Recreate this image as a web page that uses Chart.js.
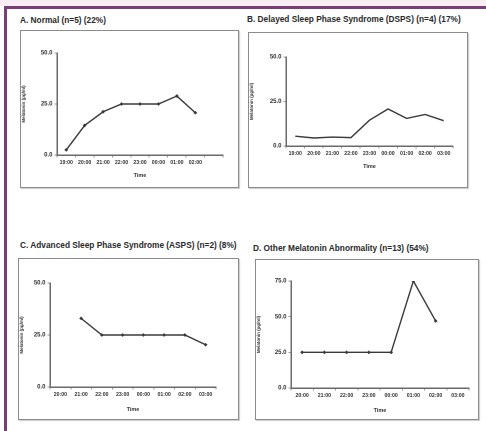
<!DOCTYPE html>
<html>
<head>
<meta charset="utf-8">
<script src="https://cdn.jsdelivr.net/npm/chart.js@4"></script>
<style>
  html,body{margin:0;padding:0;}
  body{width:486px;height:431px;position:relative;overflow:hidden;background:#fff;font-family:"Liberation Sans",Arial,sans-serif;}
  .topband{position:absolute;left:0;top:0;width:486px;height:6px;background:#f7edf3;}
  .vline{position:absolute;left:4px;top:6px;width:3px;height:425px;background:#7b3f78;}
  .hline{position:absolute;left:4px;top:6px;width:482px;height:2.5px;background:#7b3f78;}
  .ttl{position:absolute;font-weight:bold;font-size:8.3px;color:#2a2a2a;white-space:nowrap;}
  .box{position:absolute;border:1.5px solid #8c8c8c;box-shadow:1px 1px 1px rgba(0,0,0,.18);background:#fff;box-sizing:border-box;}
  .box canvas{position:absolute;left:0;top:0;}
</style>
</head>
<body>
<div class="topband"></div>
<div class="hline"></div>
<div class="vline"></div>

<div class="ttl" style="left:20px;top:15px">A. Normal (n=5) (22%)</div>
<div class="ttl" style="left:247px;top:14px">B. Delayed Sleep Phase Syndrome (DSPS) (n=4) (17%)</div>
<div class="ttl" style="left:20px;top:240px">C. Advanced Sleep Phase Syndrome (ASPS) (n=2) (8%)</div>
<div class="ttl" style="left:253px;top:243px">D. Other Melatonin Abnormality (n=13) (54%)</div>

<div class="box" style="left:20px;top:30px;width:219px;height:158px"><canvas id="cA"></canvas></div>
<div class="box" style="left:248px;top:32px;width:220px;height:156px"><canvas id="cB"></canvas></div>
<div class="box" style="left:18px;top:258px;width:221px;height:162px"><canvas id="cC"></canvas></div>
<div class="box" style="left:255px;top:259px;width:224px;height:161px"><canvas id="cD"></canvas></div>

<script>
// ---- data ----
const labelsA=['19:00','20:00','21:00','22:00','23:00','00:00','01:00','02:00',''];
const normal=[2.5,14.5,21.2,25,25,25,28.9,20.7,null];

const labelsB=['19:00','20:00','21:00','22:00','23:00','00:00','01:00','02:00','03:00'];
const dsps=[5.5,4.5,5,4.7,14.5,20.8,15.5,17.7,14.2];

const labelsC=['20:00','21:00','22:00','23:00','00:00','01:00','02:00','03:00'];
const asps=[null,33,25,25,25,25,25,20.3];

const labelsD=['20:00','21:00','22:00','23:00','00:00','01:00','02:00','03:00'];
const other=[25,25,25,25,25,75,47,null];

const yMaxABC=50, yMaxD=75, yStep=25;

Chart.defaults.font.family='"Liberation Sans",Arial,sans-serif';
Chart.defaults.color='#333';

// g: canvas size, y-axis width, x-axis height, paddings around the chart area
function makePanel(id,labels,values,yMax,g,showPts){
  const cv=document.getElementById(id);
  cv.width=g.w;cv.height=g.h;cv.style.width=g.w+'px';cv.style.height=g.h+'px';
  return new Chart(cv,{
    type:'line',
    data:{labels:labels,datasets:[{data:values,borderColor:'#3a3a3a',borderWidth:1.4,tension:0,spanGaps:false,
      pointStyle:'rectRot',pointRadius:showPts?1.9:0,pointBackgroundColor:'#3a3a3a',pointBorderColor:'#3a3a3a',pointBorderWidth:0}]},
    options:{responsive:false,animation:false,devicePixelRatio:2,
      layout:{padding:{top:g.top,right:g.right,left:0,bottom:g.padB}},
      plugins:{legend:{display:false},tooltip:{enabled:false}},
      scales:{
        x:{type:'category',offset:true,
          grid:{display:true,drawOnChartArea:false,drawTicks:true,tickLength:2.5,color:'#9a9a9a',offset:true},
          border:{display:true,color:'#6a6a6a',width:1.5},
          ticks:{autoSkip:false,maxRotation:0,minRotation:0,padding:2,font:{size:5.2,weight:'bold'},color:'#333'},
          title:{display:true,text:'Time',font:{size:5.5,weight:'bold'},color:'#333',padding:{top:4,bottom:0}},
          afterFit:s=>{s.height=g.axH;}},
        y:{min:0,max:yMax,
          grid:{display:true,drawOnChartArea:false,drawTicks:true,tickLength:2.5,color:'#9a9a9a'},
          border:{display:true,color:'#6a6a6a',width:1.5},
          ticks:{stepSize:yStep,padding:2,font:{size:6,weight:'bold'},color:'#333',callback:v=>Number(v).toFixed(1)},
          title:{display:true,text:'Melatonin (pg/ml)',font:{size:4.5,weight:'bold'},color:'#333',padding:{top:0,bottom:1}},
          afterFit:s=>{s.width=g.left;}}
      }}
  });
}

makePanel('cA',labelsA,normal,yMaxABC,{w:216,h:155,left:36,right:14,top:22,axH:24,padB:7},true);
makePanel('cB',labelsB,dsps,yMaxABC,{w:217,h:153,left:37,right:13,top:24,axH:24,padB:16},false);
makePanel('cC',labelsC,asps,yMaxABC,{w:218,h:159,left:31,right:21,top:24,axH:26,padB:5},true);
makePanel('cD',labelsD,other,yMaxD,{w:221,h:158,left:35,right:8,top:21,axH:26,padB:4},true);
</script>
</body>
</html>
